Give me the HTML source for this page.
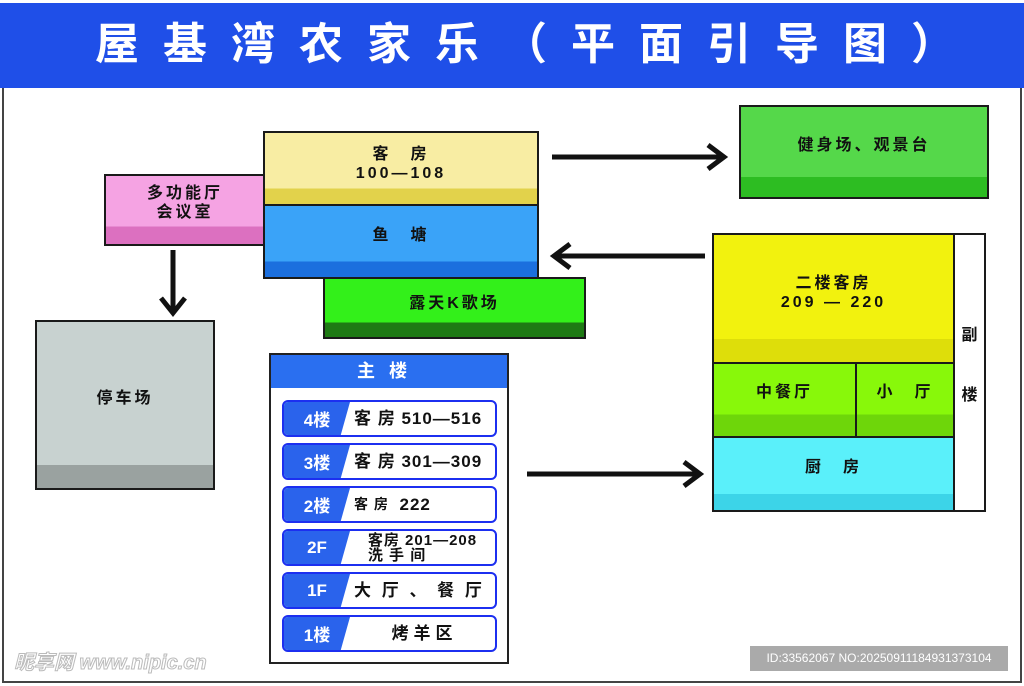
<!DOCTYPE html>
<html><head><meta charset="utf-8"><style>
*{margin:0;padding:0;box-sizing:border-box}
body{width:1024px;height:686px;background:#fff;position:relative;overflow:hidden;font-family:"Liberation Sans","Noto Sans CJK SC",sans-serif;font-weight:bold;color:#111}
.a{position:absolute}
.b{position:absolute;border:2px solid #1a1a1a;display:flex;align-items:center;justify-content:center;text-align:center;font-size:16px;line-height:19px;letter-spacing:3px}
.row{position:absolute;left:282px;width:215px;height:37px;border:2px solid #1c2ff0;border-radius:6px;background:#fff;overflow:hidden}
.row .t{position:absolute;left:0;top:0;width:66px;height:100%;background:#2a63ec;color:#fff;font-size:17px;display:flex;align-items:center;justify-content:center;clip-path:polygon(0 0,100% 0,86% 100%,0 100%)}
.row .r{position:absolute;left:70px;right:0;top:0;bottom:0;display:flex;align-items:center;font-size:17px;letter-spacing:1px;line-height:17px;white-space:nowrap}
</style></head><body>
<div class="a" style="left:0;top:3px;width:1024px;height:85px;background:#1f4fe8"></div>
<div class="a" style="left:95px;top:14px;width:960px;color:#fff;font-size:44px;letter-spacing:24px;line-height:62px;white-space:nowrap">屋基湾农家乐（平面引导图）</div>
<div class="a" style="left:2px;top:88px;width:1020px;height:595px;border:2px solid #444;border-top:none"></div>

<div class="b" style="left:104px;top:174px;width:162px;height:72px;background:linear-gradient(#f5a3e3 74%,#dc70c0 74%);padding-bottom:14px">多功能厅<br>会议室</div>
<div class="b" style="left:263px;top:131px;width:276px;height:75px;background:linear-gradient(#f8eda3 78%,#e2d24b 78%);padding-bottom:10px">客　房<br>100—108</div>
<div class="b" style="left:263px;top:204px;width:276px;height:75px;background:linear-gradient(#3aa3f8 78%,#1b6fde 78%);padding-bottom:12px">鱼　塘</div>
<div class="b" style="left:323px;top:277px;width:263px;height:62px;background:linear-gradient(#33f01a 75%,#1e7a14 75%);padding-bottom:10px">露天K歌场</div>
<div class="b" style="left:35px;top:320px;width:180px;height:170px;background:linear-gradient(#c8d2d0 86%,#9aa2a0 86%);padding-bottom:14px">停车场</div>
<div class="b" style="left:739px;top:105px;width:250px;height:94px;background:linear-gradient(#55d84a 78%,#2dbd22 78%);padding-bottom:14px">健身场、观景台</div>

<div class="b" style="left:712px;top:233px;width:243px;height:131px;background:linear-gradient(#f2f20e 82%,#dede0a 82%);padding-bottom:12px">二楼客房<br>209 — 220</div>
<div class="b" style="left:712px;top:362px;width:145px;height:76px;background:linear-gradient(#88f80a 70%,#6ed60a 70%);padding-bottom:16px">中餐厅</div>
<div class="b" style="left:855px;top:362px;width:100px;height:76px;background:linear-gradient(#88f80a 70%,#6ed60a 70%);padding-bottom:16px">小　厅</div>
<div class="b" style="left:712px;top:436px;width:243px;height:76px;background:linear-gradient(#5af0fa 78%,#3cd4e8 78%);padding-bottom:14px">厨　房</div>
<div class="b" style="left:953px;top:233px;width:33px;height:279px;background:#fff;line-height:60px;letter-spacing:0;padding-bottom:14px">副<br>楼</div>

<div class="a" style="left:269px;top:353px;width:240px;height:311px;border:2px solid #222;background:#fff"></div>
<div class="a" style="left:271px;top:355px;width:236px;height:33px;background:#2a6ff0;color:#fff;font-size:18px;text-align:center;line-height:33px;letter-spacing:14px">主楼</div>
<div class="row" style="top:400px"><div class="t">4楼</div><div class="r">客 房 510—516</div></div>
<div class="row" style="top:443px"><div class="t">3楼</div><div class="r">客 房 301—309</div></div>
<div class="row" style="top:486px"><div class="t">2楼</div><div class="r"><span style="font-size:14px">客 房&nbsp;</span>&nbsp;222</div></div>
<div class="row" style="top:529px"><div class="t">2F</div><div class="r" style="flex-direction:column;justify-content:center;font-size:15px;line-height:15px;left:66px;letter-spacing:1px">客房 201—208<br>洗 手 间</div></div>
<div class="row" style="top:572px"><div class="t">1F</div><div class="r" style="letter-spacing:3px">大 厅 、 餐 厅</div></div>
<div class="row" style="top:615px"><div class="t">1楼</div><div class="r" style="justify-content:center;letter-spacing:5px">烤羊区</div></div>

<svg class="a" style="left:0;top:0" width="1024" height="686">
<g stroke="#111" stroke-width="5" fill="none">
<line x1="552" y1="157" x2="722" y2="157"/><polyline points="708,145 724,157 708,169"/>
<line x1="705" y1="256" x2="556" y2="256"/><polyline points="570,244 554,256 570,268"/>
<line x1="173" y1="250" x2="173" y2="311"/><polyline points="161,298 173,313 185,298"/>
<line x1="527" y1="474" x2="698" y2="474"/><polyline points="684,462 700,474 684,486"/>
</g></svg>

<div class="a" style="left:14px;top:646px;font-size:20px;color:#fff;-webkit-text-stroke:1px #bbb;font-style:italic">昵享网 www.nipic.cn</div>
<div class="a" style="left:750px;top:646px;width:258px;height:25px;background:#aaa;color:#fff;font-size:12px;font-weight:normal;line-height:25px;text-align:center">ID:33562067 NO:20250911184931373104</div>
</body></html>
